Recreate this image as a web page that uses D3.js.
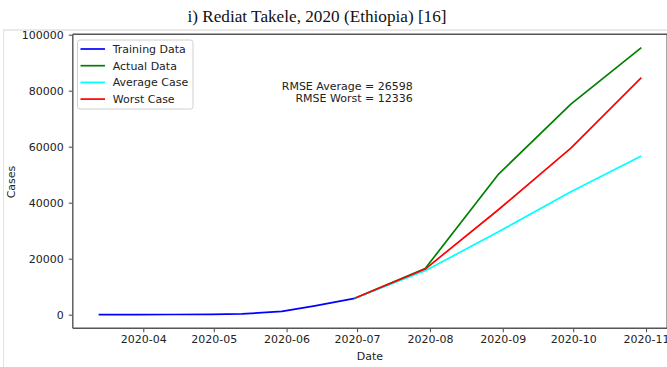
<!DOCTYPE html>
<html>
<head>
<meta charset="utf-8">
<script src="https://cdn.jsdelivr.net/npm/d3@7"></script>
<style>
  html, body { margin: 0; padding: 0; background: #fff; }
  svg { display: block; }
  text { font-family: "DejaVu Sans", sans-serif; fill: #222; }
</style>
</head>
<body>
<svg id="chart" width="667" height="367"></svg>
<script>
// ---- data ----
const titleText = "i) Rediat Takele, 2020 (Ethiopia) [16]";
const trainDates = ["2020-03-13","2020-03-30","2020-04-13","2020-04-30","2020-05-13","2020-05-30","2020-06-13","2020-06-30"];
const trainCases = [1, 23, 71, 131, 287, 1172, 3166, 5846];
const forecastDates = ["2020-06-30","2020-07-30","2020-08-30","2020-09-30","2020-10-30"];
const actualCases = [5846, 16500, 50000, 75200, 95400];
const averageCases = [5846, 15700, 29500, 43900, 56700];
const worstCases = [5846, 16300, 37400, 59500, 84700];
const yTicks = [0, 20000, 40000, 60000, 80000, 100000];
const xTickDates = ["2020-04-01","2020-05-01","2020-06-01","2020-07-01","2020-08-01","2020-09-01","2020-10-01","2020-11-01"];
const seriesNames = ["Training Data", "Actual Data", "Average Case", "Worst Case"];
const seriesColors = ["#0000ff", "#008000", "#00ffff", "#ff0000"];
const rmseLines = ["RMSE Average = 26598", "RMSE Worst = 12336"];

// ---- layout ----
const svg = d3.select("#chart");
const parse = d3.utcParse("%Y-%m-%d");
const fmt = d3.utcFormat("%Y-%m");
const plot = { left: 72.8, right: 667.2, top: 34.3, bottom: 328.3 };

const x = d3.scaleUtc()
  .domain([parse("2020-03-02"), parse("2020-11-10")])
  .range([plot.left, plot.right]);
const y = d3.scaleLinear()
  .domain([-4857, 100143])
  .range([plot.bottom, plot.top]);

// page frame (document border)
svg.append("line").attr("x1", 3).attr("x2", 667).attr("y1", 30).attr("y2", 30)
  .attr("stroke", "#e2e2e2").attr("stroke-width", 1.5);
svg.append("line").attr("x1", 3.5).attr("x2", 3.5).attr("y1", 30).attr("y2", 367)
  .attr("stroke", "#e2e2e2").attr("stroke-width", 1);

// title
svg.append("text")
  .attr("x", 317).attr("y", 22)
  .attr("text-anchor", "middle")
  .style("font-family", "'Liberation Serif', 'Times New Roman', serif")
  .style("font-size", "17.2px")
  .style("fill", "#111")
  .text(titleText);

// clip
svg.append("clipPath").attr("id", "clip")
  .append("rect").attr("x", plot.left).attr("y", plot.top)
  .attr("width", plot.right - plot.left).attr("height", plot.bottom - plot.top);

// axes
const xAxis = d3.axisBottom(x).tickValues(xTickDates.map(parse)).tickFormat(fmt).tickSizeOuter(0).tickSize(4).tickPadding(3);
const yAxis = d3.axisLeft(y).tickValues(yTicks).tickFormat(d3.format("d")).tickSizeOuter(0).tickSize(4).tickPadding(5);

const gx = svg.append("g").attr("transform", `translate(0,${plot.bottom})`).call(xAxis);
const gy = svg.append("g").attr("transform", `translate(${plot.left},0)`).call(yAxis);
[gx, gy].forEach(g => {
  g.select(".domain").remove();
  g.selectAll(".tick line").attr("stroke", "#444").attr("stroke-width", 1);
  g.selectAll(".tick text").style("font-family", "'DejaVu Sans', sans-serif").style("font-size", "11px").attr("fill", "#222");
});

// spines
const spine = svg.append("g").attr("fill", "none").attr("stroke", "#555").attr("stroke-width", 1.4);
spine.append("line").attr("x1", plot.left).attr("x2", plot.left).attr("y1", plot.top).attr("y2", plot.bottom);
spine.append("line").attr("x1", plot.left).attr("x2", plot.right).attr("y1", plot.bottom).attr("y2", plot.bottom);
spine.append("line").attr("x1", plot.left).attr("x2", plot.right).attr("y1", plot.top).attr("y2", plot.top);
spine.append("line").attr("x1", plot.right).attr("x2", plot.right).attr("y1", plot.top).attr("y2", plot.bottom);

// axis labels
svg.append("text").attr("x", 370).attr("y", 360).attr("text-anchor", "middle")
  .style("font-size", "11px").text("Date");
svg.append("text").attr("transform", "translate(14.5,182) rotate(-90)").attr("text-anchor", "middle")
  .style("font-size", "11px").text("Cases");

// lines
const line = d3.line().x(d => x(d[0])).y(d => y(d[1]));
const seriesData = [
  trainDates.map((d, i) => [parse(d), trainCases[i]]),
  forecastDates.map((d, i) => [parse(d), actualCases[i]]),
  forecastDates.map((d, i) => [parse(d), averageCases[i]]),
  forecastDates.map((d, i) => [parse(d), worstCases[i]])
];
const gl = svg.append("g").attr("clip-path", "url(#clip)");
seriesData.forEach((s, i) => {
  gl.append("path").datum(s)
    .attr("d", line)
    .attr("fill", "none")
    .attr("stroke", seriesColors[i])
    .attr("stroke-width", 1.7)
    .attr("stroke-linejoin", "round");
});

// RMSE annotation
rmseLines.forEach((t, i) => {
  svg.append("text").attr("x", 412.7).attr("y", 90 + i * 12.4)
    .attr("text-anchor", "end").style("font-size", "11px").text(t);
});

// legend
const lg = svg.append("g");
lg.append("rect").attr("x", 77.5).attr("y", 40).attr("width", 115.5).attr("height", 69)
  .attr("rx", 2.5).attr("fill", "#fff").attr("fill-opacity", 0.85)
  .attr("stroke", "#d0d0d0").attr("stroke-width", 1);
seriesNames.forEach((n, i) => {
  const yy = 49 + i * 16.7;
  lg.append("line").attr("x1", 80.5).attr("x2", 105).attr("y1", yy).attr("y2", yy)
    .attr("stroke", seriesColors[i]).attr("stroke-width", 1.7);
  lg.append("text").attr("x", 112.7).attr("y", yy + 4).style("font-size", "11px").text(n);
});
</script>
</body>
</html>
